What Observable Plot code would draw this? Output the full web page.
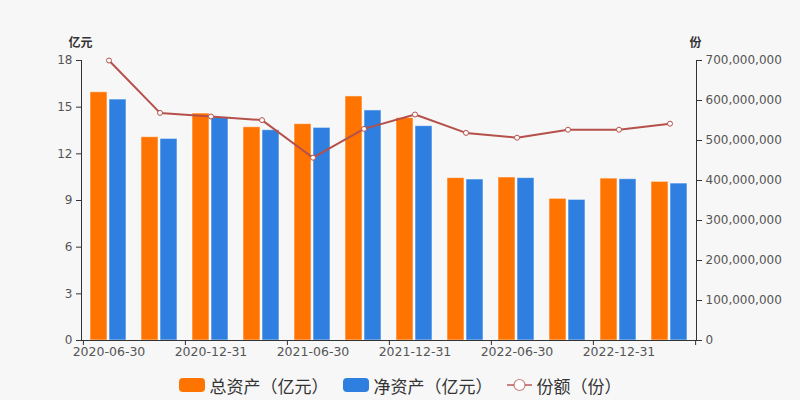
<!DOCTYPE html>
<html><head><meta charset="utf-8">
<script src="https://cdn.jsdelivr.net/npm/d3@7"></script>
<script src="https://cdn.jsdelivr.net/npm/@observablehq/plot@0.6"></script>
<style>
html,body{margin:0;padding:0;background:#f7f7f7;}
#chart{width:800px;height:400px;position:relative;overflow:hidden;}
.legend{display:flex;justify-content:center;align-items:center;height:40px;margin-top:5px;font-family:"Noto Sans CJK SC",sans-serif;font-size:17px;color:#333;}
.item{display:flex;align-items:center;margin:0 7px;}
.sw{width:26px;height:14px;border-radius:4px;margin-right:5px;}
.item svg{margin-right:5px;}
</style></head><body><div id="chart"></div>
<script>
const dates = ["2020-06-30","2020-09-30","2020-12-31","2021-03-31","2021-06-30","2021-09-30","2021-12-31","2022-03-31","2022-06-30","2022-09-30","2022-12-31","2023-03-31"];
const totalAssets = [15.96,13.07,14.59,13.71,13.91,15.69,14.3,10.44,10.48,9.11,10.41,10.2];
const netAssets = [15.49,12.96,14.33,13.52,13.67,14.79,13.78,10.35,10.44,9.04,10.37,10.09];
const shares = [700e6,569e6,560e6,551e6,457e6,529e6,565e6,519e6,507e6,527e6,527e6,542e6];
const xTickLabels = ["2020-06-30","2020-12-31","2021-06-30","2021-12-31","2022-06-30","2022-12-31"];
const leftTicks = [0,3,6,9,12,15,18];
const rightTicks = [0,1e8,2e8,3e8,4e8,5e8,6e8,7e8];
const seriesNames = ["总资产（亿元）","净资产（亿元）","份额（份）"];
const colors = ["#ff7300","#2e7fdf","#b5504b"];

const leftMax = 18, rightMax = 7e8;
const k = leftMax / rightMax;
const rows = dates.map((d,i)=>({date:d,total:totalAssets[i],net:netAssets[i],share:shares[i]*k}));
const W = 800, ML = 81, MR = 104;
const bw = (W - ML - MR) / dates.length;

const plot = Plot.plot({
  width: W, height: 360,
  marginLeft: ML, marginRight: MR, marginTop: 60, marginBottom: 20,
  style: {background:"transparent", fontSize:"12px", fontFamily:"'DejaVu Sans', sans-serif", color:"#555", overflow:"visible"},
  x: {type:"band", domain: dates, padding: 0},
  y: {domain: [0, leftMax]},
  marks: [
    Plot.barY(rows, {x:"date", y:"total", fill:colors[0], stroke:"#ffffff", strokeOpacity:0.55, strokeWidth:1, insetLeft:7, insetRight:27}),
    Plot.barY(rows, {x:"date", y:"net", fill:colors[1], stroke:"#ffffff", strokeOpacity:0.55, strokeWidth:1, insetLeft:26, insetRight:8}),
    Plot.frame({anchor:"left", stroke:"#333"}),
    Plot.frame({anchor:"right", stroke:"#333"}),
    Plot.frame({anchor:"bottom", stroke:"#333"}),
    Plot.axisY({anchor:"left", ticks:leftTicks, tickSize:5, tickPadding:4, label:null, stroke:"#333", fill:"#555"}),
    Plot.axisY({anchor:"right", ticks:rightTicks.map(v=>v*k), tickFormat:d=>d3.format(",")(Math.round(d/k)), tickSize:5, tickPadding:4, label:null, stroke:"#333", fill:"#555"}),
    Plot.axisX({ticks:xTickLabels, tickSize:0, tickPadding:7, label:null, fill:"#555", fontSize:12.5}),
    Plot.axisX({ticks:xTickLabels, tickFormat:()=>"", tickSize:5, label:null, stroke:"#333", dx:-bw/2}),
    Plot.axisX({ticks:[dates[dates.length-1]], tickFormat:()=>"", tickSize:5, label:null, stroke:"#333", dx:bw/2}),
    Plot.line(rows, {x:"date", y:"share", stroke:colors[2], strokeWidth:2}),
    Plot.dot(rows, {x:"date", y:"share", r:2.5, fill:"white", stroke:colors[2], strokeWidth:1}),
    Plot.text(["亿元"], {frameAnchor:"top-left", textAnchor:"middle", dx:-1, dy:-22, fontWeight:"bold", fontSize:12, fill:"#333", fontFamily:"'Noto Sans CJK SC', sans-serif"}),
    Plot.text(["份"], {frameAnchor:"top-right", textAnchor:"middle", dx:-1, dy:-22, fontWeight:"bold", fontSize:12, fill:"#333", fontFamily:"'Noto Sans CJK SC', sans-serif"})
  ]
});
const chart = document.getElementById("chart");
chart.appendChild(plot);

const legend = document.createElement("div");
legend.className = "legend";
seriesNames.forEach((name,i)=>{
  const it = document.createElement("div");
  it.className = "item";
  if (i < 2) {
    const sw = document.createElement("div");
    sw.className = "sw"; sw.style.background = colors[i];
    it.appendChild(sw);
  } else {
    it.innerHTML = `<svg width="25" height="14"><line x1="0" x2="25" y1="7" y2="7" stroke="${colors[2]}" stroke-opacity="0.7" stroke-width="2"/><circle cx="12.5" cy="7" r="5.5" fill="white" stroke="${colors[2]}" stroke-opacity="0.7" stroke-width="1.2"/></svg>`;
  }
  const t = document.createElement("span");
  t.textContent = name;
  it.appendChild(t);
  legend.appendChild(it);
});
chart.appendChild(legend);
</script>
</body></html>
